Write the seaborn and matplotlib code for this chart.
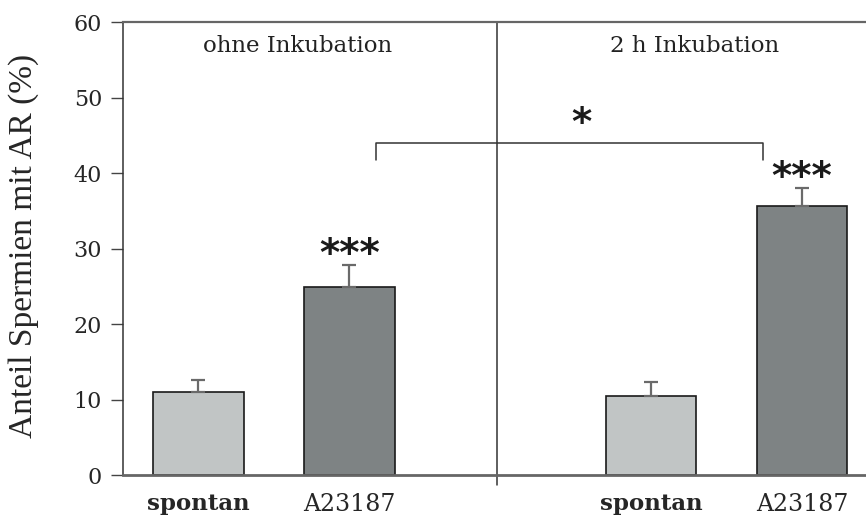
import matplotlib
matplotlib.use("Agg")
import matplotlib.pyplot as plt
import seaborn as sns
import pandas as pd
import numpy as np

# Acrosome reaction data (mean, upper SEM)
slots = ["o_spontan", "o_A23187", "gap", "i_spontan", "i_A23187"]
tick_labels = ["spontan", "A23187", "", "spontan", "A23187"]
treatment = ["spontan", "A23187", "gap", "spontan", "A23187"]
means = [11.0, 24.9, np.nan, 10.5, 35.6]
sem = [1.6, 2.9, np.nan, 1.9, 2.4]
stars_top = ["", "***", "", "", "***"]
group_titles = ["ohne Inkubation", "2 h Inkubation"]

df = pd.DataFrame({"slot": slots, "treatment": treatment, "value": means})

sns.set_style("white")
plt.rcParams["font.family"] = ["DejaVu Serif"]

fig = plt.figure(figsize=(8.66, 5.17), dpi=100)
ax = fig.add_axes([0.142, 0.081, 0.878, 0.876])

palette = {"spontan": "#c1c5c5", "A23187": "#7d8385", "gap": "#ffffff"}
sns.barplot(data=df, x="slot", y="value", hue="treatment", palette=palette,
            order=slots, width=0.6, dodge=False, legend=False,
            edgecolor="#1a1a1a", linewidth=1.2, ax=ax, errorbar=None)

xpos = np.arange(len(slots))
m = np.array(means)
e = np.array(sem)
valid = ~np.isnan(m)
ax.errorbar(xpos[valid], m[valid], yerr=[np.zeros(valid.sum()), e[valid]],
            fmt="none", ecolor="#6a6a6a", elinewidth=1.6, capsize=5, capthick=1.6,
            zorder=1)

star_kw = dict(ha="center", va="baseline", fontsize=28, fontweight="bold",
               color="#1a1a1a", family="DejaVu Sans")

# significance markers above stimulated bars
for x, mv, ev, s in zip(xpos, means, sem, stars_top):
    if s:
        ax.text(x, mv + ev - 0.1, s, **star_kw)

# comparison bracket between the two A23187 groups
bx0, bx1, by, bdrop = 1.18, 3.74, 44.0, 2.3
ax.plot([bx0, bx0, bx1, bx1], [by - bdrop, by, by, by - bdrop],
        color="#333333", lw=1.1, clip_on=False)
ax.text(2.54, by + 1.0, "*", **star_kw)

# group divider and group titles
ax.plot([1.98, 1.98], [-1.3, 60], color="#333333", lw=1.1, clip_on=False)
ax.text(0.66, 56.8, group_titles[0], ha="center", va="center", fontsize=16.5,
        color="#222222")
ax.text(3.29, 56.8, group_titles[1], ha="center", va="center", fontsize=16.5,
        color="#222222")

ax.set_ylim(0, 60)
ax.set_xlim(-0.5, 4.54)
ax.set_yticks(np.arange(0, 61, 10))
ax.set_xticks(xpos)
ax.set_xticklabels(tick_labels)
ax.set_xlabel("")
ax.set_ylabel("Anteil Spermien mit AR (%)", fontsize=24, family="Liberation Serif")
ax.yaxis.set_label_coords(-0.11, 0.505)
ax.tick_params(axis="y", length=9, width=1.0, color="#444444", labelsize=16, pad=6,
               left=True, direction="out")
ax.tick_params(axis="x", length=0, labelsize=17, pad=13)
for lbl in ax.get_xticklabels():
    if lbl.get_text() == "spontan":
        lbl.set_fontweight("bold")
        lbl.set_fontsize(16.5)

for side in ["left", "top", "bottom"]:
    ax.spines[side].set_visible(True)
ax.spines["right"].set_visible(False)
ax.spines["left"].set_color("#333333")
ax.spines["left"].set_linewidth(1.1)
ax.spines["top"].set_color("#666666")
ax.spines["top"].set_linewidth(1.6)
ax.spines["bottom"].set_color("#666666")
ax.spines["bottom"].set_linewidth(2.0)

fig.savefig("out.png", dpi=100)
